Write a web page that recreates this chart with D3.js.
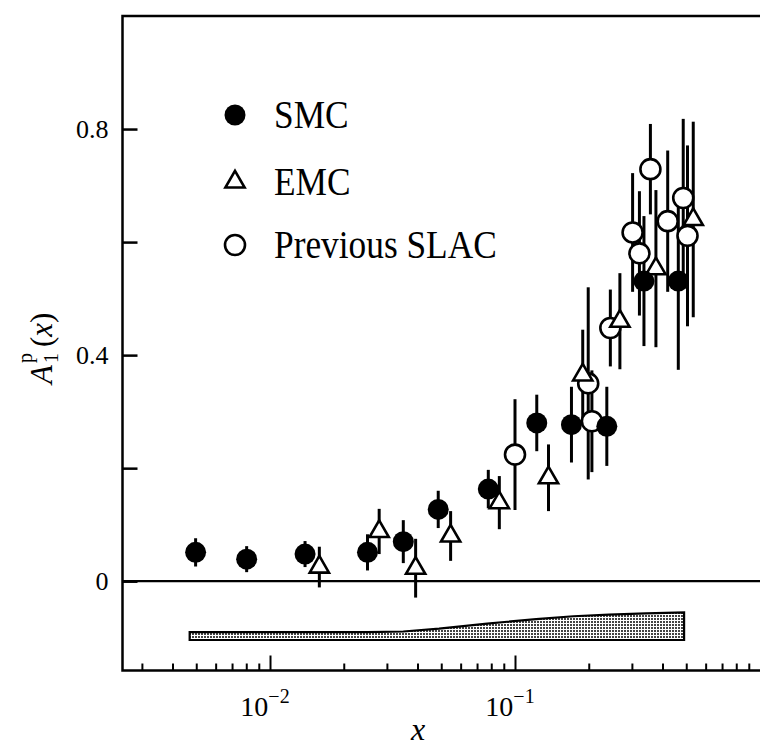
<!DOCTYPE html>
<html>
<head>
<meta charset="utf-8">
<script src="https://cdn.jsdelivr.net/npm/d3@7"></script>
<style>
  body { margin: 0; background: #fff; }
  svg { display: block; font-family: "Liberation Serif", "Times New Roman", serif; }
</style>
</head>
<body>
<script>
// SMC (filled circles)
const smcX = [0.00497, 0.00803, 0.0139, 0.0250, 0.0350, 0.0486, 0.0778, 0.1227, 0.170, 0.237, 0.336, 0.464];
const smcA = [0.051, 0.039, 0.048, 0.051, 0.070, 0.127, 0.163, 0.280, 0.277, 0.274, 0.531, 0.531];
const smcErr = [0.025, 0.023, 0.023, 0.032, 0.038, 0.033, 0.034, 0.050, 0.067, 0.070, 0.115, 0.157];

// EMC (open triangles)
const emcX = [0.0159, 0.0279, 0.0393, 0.0546, 0.0863, 0.137, 0.189, 0.268, 0.376, 0.534];
const emcA = [0.025, 0.088, 0.023, 0.080, 0.139, 0.183, 0.365, 0.460, 0.553, 0.640];
const emcErr = [0.036, 0.040, 0.052, 0.044, 0.047, 0.059, 0.080, 0.085, 0.139, 0.173];

// Previous SLAC (open circles)
const slacX = [0.100, 0.199, 0.206, 0.245, 0.302, 0.322, 0.357, 0.420, 0.486, 0.506];
const slacA = [0.224, 0.350, 0.283, 0.448, 0.617, 0.580, 0.729, 0.637, 0.678, 0.611];
const slacErr = [0.098, 0.170, 0.090, 0.068, 0.105, 0.110, 0.080, 0.125, 0.140, 0.160];

// systematic error band (drawn below the axis, offset)
const bandX = [0.0047, 0.008, 0.014, 0.025, 0.035, 0.049, 0.077, 0.122, 0.173, 0.242, 0.342, 0.49];
const bandH = [0.014, 0.014, 0.014, 0.014, 0.015, 0.020, 0.029, 0.037, 0.042, 0.045, 0.047, 0.049];
const bandBase = -0.104;

const yTicks = [0, 0.2, 0.4, 0.6, 0.8];
const yLabels = [0, 0.4, 0.8];
const xLabels = [{v: 0.01, exp: "\u22122"}, {v: 0.1, exp: "\u22121"}];

const legendItems = [
  {name: "SMC", kind: "smc"},
  {name: "EMC", kind: "emc"},
  {name: "Previous SLAC", kind: "slac"}
];

const width = 761, height = 750;
const plot = {left: 122.5, right: 760, top: 16, bottom: 670.5};

const svg = d3.select("body").append("svg")
  .attr("width", width)
  .attr("height", height);

const x = d3.scaleLog().domain([0.0025, 1]).range([plot.left, plot.right]);
const y = d3.scaleLinear().domain([-0.158, 1.0]).range([plot.bottom, plot.top]);

// stipple pattern for the band
const pat = svg.append("defs").append("pattern")
  .attr("id", "dots")
  .attr("patternUnits", "userSpaceOnUse")
  .attr("width", 3).attr("height", 3);
pat.append("rect").attr("width", 3).attr("height", 3).attr("fill", "#fff");
pat.append("rect").attr("width", 2).attr("height", 2).attr("fill", "#444");

// x axis ticks (pointing inward)
const xt = x.ticks().filter(d => d < 0.999);
const isMajor = d => Math.abs(Math.log10(d) - Math.round(Math.log10(d))) < 1e-6;
const gx = svg.append("g")
  .attr("transform", `translate(0,${plot.bottom})`)
  .call(d3.axisBottom(x).tickValues(xt).tickFormat("").tickSizeOuter(0).tickSize(-7));
gx.select(".domain").remove();
gx.selectAll(".tick line")
  .attr("y2", d => isMajor(d) ? -15 : -7)
  .attr("stroke", "#000").attr("stroke-width", 2);

xLabels.forEach(l => {
  const t = svg.append("text")
    .attr("x", x(l.v) - 5)
    .attr("y", 716)
    .attr("text-anchor", "middle")
    .attr("font-size", 28);
  t.append("tspan").text("10");
  t.append("tspan").attr("dy", -13).attr("font-size", 20).text(l.exp);
});

// y axis
const gy = svg.append("g")
  .attr("transform", `translate(${plot.left},0)`)
  .call(d3.axisLeft(y).tickValues(yTicks).tickSizeOuter(0).tickSize(-15).tickPadding(14)
    .tickFormat(d => yLabels.includes(d) ? (d === 0 ? "0" : d3.format(".1f")(d)) : ""));
gy.select(".domain").remove();
gy.selectAll(".tick line").attr("stroke", "#000").attr("stroke-width", 2.5);
gy.selectAll(".tick text")
  .attr("font-family", "Liberation Serif, serif")
  .attr("font-size", 26)
  .attr("fill", "#000");

// frame
svg.append("path")
  .attr("d", `M${plot.right},${plot.top}H${plot.left}V${plot.bottom}H${plot.right}`)
  .attr("fill", "none").attr("stroke", "#000").attr("stroke-width", 2.5);

// zero line
svg.append("line")
  .attr("x1", plot.left).attr("x2", plot.right)
  .attr("y1", y(0)).attr("y2", y(0))
  .attr("stroke", "#000").attr("stroke-width", 2.2);

// systematic band
const area = d3.area()
  .x((d, i) => x(bandX[i]))
  .y0(y(bandBase))
  .y1((d, i) => y(bandBase + bandH[i]));
svg.append("path")
  .datum(bandH)
  .attr("d", d => area(d) + "Z")
  .attr("fill", "url(#dots)")
  .attr("stroke", "#000").attr("stroke-width", 2.2);

// error bars
const allPts = [];
smcX.forEach((v, i) => allPts.push({x: v, a: smcA[i], e: smcErr[i]}));
emcX.forEach((v, i) => allPts.push({x: v, a: emcA[i], e: emcErr[i]}));
slacX.forEach((v, i) => allPts.push({x: v, a: slacA[i], e: slacErr[i]}));

svg.append("g").selectAll("line")
  .data(allPts)
  .join("line")
  .attr("x1", d => x(d.x)).attr("x2", d => x(d.x))
  .attr("y1", d => y(d.a - d.e)).attr("y2", d => y(d.a + d.e))
  .attr("stroke", "#000").attr("stroke-width", 3);

const tri = d3.symbol(d3.symbolTriangle).size(160);

function drawMarker(g, kind, cx, cy) {
  if (kind === "smc") {
    g.append("circle").attr("cx", cx).attr("cy", cy).attr("r", 10.5).attr("fill", "#000");
  } else if (kind === "slac") {
    g.append("circle").attr("cx", cx).attr("cy", cy).attr("r", 10)
      .attr("fill", "#fff").attr("stroke", "#000").attr("stroke-width", 2.6);
  } else {
    g.append("path").attr("d", tri).attr("transform", `translate(${cx},${cy})`)
      .attr("fill", "#fff").attr("stroke", "#000").attr("stroke-width", 2.6)
      .attr("stroke-linejoin", "miter");
  }
}

const gm = svg.append("g");
slacX.forEach((v, i) => drawMarker(gm, "slac", x(v), y(slacA[i])));
emcX.forEach((v, i) => drawMarker(gm, "emc", x(v), y(emcA[i])));
smcX.forEach((v, i) => drawMarker(gm, "smc", x(v), y(smcA[i])));

// legend
const legY = [115, 182, 245];
legendItems.forEach((item, i) => {
  drawMarker(svg, item.kind, 235, legY[i]);
  svg.append("text")
    .attr("transform", `translate(274,${legY[i] + 13}) scale(0.93,1.05)`)
    .attr("font-size", 38)
    .text(item.name);
});

// axis titles
svg.append("text")
  .attr("x", 418).attr("y", 740)
  .attr("text-anchor", "middle")
  .attr("font-size", 32)
  .attr("font-style", "italic")
  .text("x");

const yt = svg.append("g").attr("transform", "translate(52,342) rotate(-90)");
yt.append("text").attr("x", -42).attr("y", 0).attr("font-size", 31).attr("font-style", "italic").text("A");
yt.append("text").attr("x", -21).attr("y", -20).attr("font-size", 20).text("p");
yt.append("text").attr("x", -21).attr("y", 6).attr("font-size", 20).text("1");
const par = yt.append("text").attr("x", -5).attr("y", 0).attr("font-size", 31);
par.append("tspan").text("(");
par.append("tspan").attr("font-style", "italic").text("x");
par.append("tspan").text(")");
</script>
</body>
</html>
